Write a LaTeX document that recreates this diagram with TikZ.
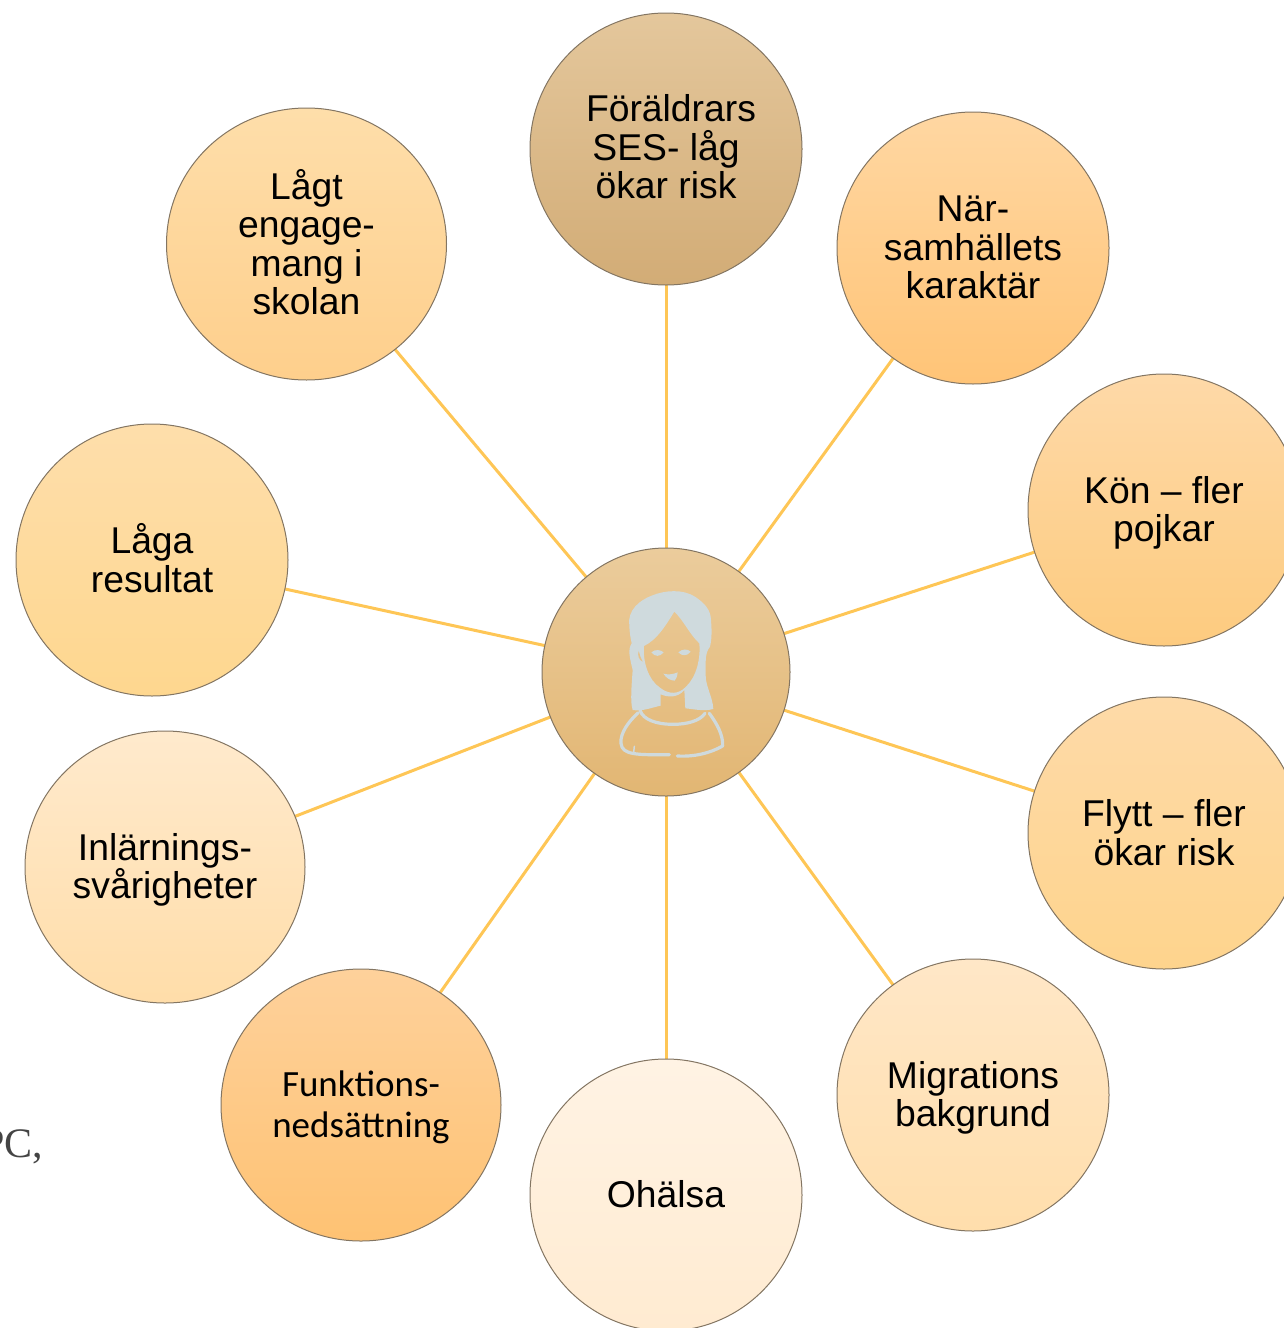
\documentclass[tikz,border=0pt]{standalone}
\usetikzlibrary{shapes.geometric}
\usepackage{fontspec}
\setmainfont{Liberation Sans}
\newfontfamily\calib{Carlito}
\newfontfamily\tms{Liberation Serif}
\newcommand\st{\rule[-4pt]{0pt}{34pt}}
\newcommand\dntwo{\rule{0pt}{33pt}}
\newcommand\uptwo{\rule[-8pt]{0pt}{8pt}}
\newcommand\upone{\rule[-6pt]{0pt}{6pt}}
\definecolor{bordergray}{HTML}{837562}
\definecolor{spokeorange}{HTML}{FEC656}
\definecolor{figgray}{HTML}{CFDADD}
\definecolor{residue}{HTML}{444444}
\definecolor{earfill}{HTML}{E7C38C}
\definecolor{hubT}{HTML}{EBCC9C}\definecolor{hubB}{HTML}{E2B673}
\definecolor{sesT}{HTML}{E4C79C}\definecolor{sesB}{HTML}{D2AC76}
\definecolor{narT}{HTML}{FFD7A2}\definecolor{narB}{HTML}{FFC477}
\definecolor{konT}{HTML}{FED9A8}\definecolor{konB}{HTML}{FDCB7F}
\definecolor{flyT}{HTML}{FEDAA8}\definecolor{flyB}{HTML}{FED48D}
\definecolor{migT}{HTML}{FFE7C7}\definecolor{migB}{HTML}{FFDEAC}
\definecolor{ohaT}{HTML}{FFF3E4}\definecolor{ohaB}{HTML}{FFEBD1}
\definecolor{funT}{HTML}{FED19B}\definecolor{funB}{HTML}{FEC273}
\definecolor{inlT}{HTML}{FFEACD}\definecolor{inlB}{HTML}{FFDDA9}
\definecolor{lagaT}{HTML}{FEDEAB}\definecolor{lagaB}{HTML}{FED78F}
\definecolor{lagtT}{HTML}{FEDEAA}\definecolor{lagtB}{HTML}{FECF8C}
\pgfdeclarelayer{bg}\pgfsetlayers{bg,main}
\tikzset{
  bubble/.style n args={3}{circle,draw=bordergray,line width=1pt,inner sep=0pt,minimum size=#1,align=center,
    top color=#2T,bottom color=#2B,font=\fontsize{37.3}{38.5}\selectfont,text=black,#3},
  wide/.style={shape=ellipse,minimum width=280pt,minimum height=272pt},
  spoke/.style={draw=spokeorange,line width=3pt},
  figfill/.style={fill=figgray,draw=none},
  figline/.style={draw=figgray,line width=3.2pt,line cap=round,line join=round,fill=none},
}
\begin{document}
\begin{tikzpicture}[x=1pt,y=-1pt]
\useasboundingbox (0,0) rectangle (1284,1328);
\clip (0,0) rectangle (1284,1328);
\node[bubble={248pt}{hub}{}] (hub) at (666,672) {};
\node[bubble={272pt}{ses}{}] (ses) at (666,149) {\hspace*{10pt}Föräldrars\st\\SES- låg\st\\ökar risk\st\uptwo};
\node[bubble={272pt}{nar}{}] (nar) at (973,248) {När-\st\\samhällets\st\\karaktär\st\upone};
\node[bubble={272pt}{kon}{}] (kon) at (1164,510) {Kön – fler\st\dntwo\\pojkar\st};
\node[bubble={272pt}{fly}{}] (flytt) at (1164,833) {Flytt – fler\st\\ökar risk\st};
\node[bubble={272pt}{mig}{}] (mig) at (973,1095) {Migrations\st\dntwo\\bakgrund\st};
\node[bubble={272pt}{oha}{}] (oh) at (666,1195) {Ohälsa\st\upone};
\node[bubble={272pt}{fun}{wide,font=\calib\fontsize{37}{41}\selectfont}] (fn) at (361,1105) {Funktions-\st\\nedsättning\st};
\node[bubble={272pt}{inl}{wide}] (inl) at (165,867) {Inlärnings-\st\dntwo\\svårigheter\st};
\node[bubble={272pt}{laga}{}] (laga) at (152,560) {Låga\st\\resultat\st};
\node[bubble={272pt}{lagt}{wide}] (lagt) at (306.5,244) {Lågt\st\\engage-\st\\mang i\st\\skolan\st};
\node[font=\tms\fontsize{42}{42}\selectfont,text=residue,anchor=base east,inner sep=0pt] (pc) at (43.5,1157) {PC,};
\begin{pgfonlayer}{bg}
\foreach \t in {ses,nar,kon,flytt,mig,oh,fn,inl,laga,lagt}
  \draw[spoke] (hub.center) -- (\t.center);
\end{pgfonlayer}
\begin{scope}[shift={(540,545)},x=0.3333pt,y=-0.3333pt]
\path[figfill,even odd rule]
  (268,240) .. controls (262,195) and (300,165) .. (335,152)
  .. controls (375,135) and (430,132) .. (465,155)
  .. controls (495,175) and (512,195) .. (513,225)
  .. controls (516,260) and (515,285) .. (510,305)
  .. controls (495,325) and (497,345) .. (497,390)
  .. controls (497,425) and (518,455) .. (520,492)
  .. controls (490,500) and (460,492) .. (436,490)
  -- (433,435)
  .. controls (415,458) and (385,458) .. (362,448)
  -- (362,482)
  .. controls (335,488) and (305,500) .. (278,495)
  .. controls (270,470) and (275,420) .. (278,375)
  .. controls (270,340) and (262,315) .. (275,295)
  .. controls (272,280) and (268,260) .. (268,240) -- cycle
  (403,200) .. controls (375,245) and (350,285) .. (312,303)
  .. controls (308,350) and (325,405) .. (360,428)
  .. controls (385,448) and (415,450) .. (438,425)
  .. controls (470,395) and (482,340) .. (478,295)
  .. controls (450,270) and (430,225) .. (403,200) -- cycle;
\path[fill=earfill] (296,318) .. controls (300,330) and (302,340) .. (308,350) .. controls (296,345) and (292,330) .. (296,318) -- cycle;
\path[figfill] (334,322) .. controls (345,312) and (362,314) .. (371,322) .. controls (360,336) and (345,336) .. (334,322) -- cycle;
\path[figfill] (415,322) .. controls (428,311) and (442,311) .. (452,320) .. controls (442,334) and (426,334) .. (415,322) -- cycle;
\path[figfill] (370,386) .. controls (385,390) and (400,388) .. (413,382) .. controls (412,395) and (408,403) .. (404,407) .. controls (390,407) and (378,398) .. (370,386) -- cycle;
\draw[figline] (300,496) .. controls (310,525) and (350,538) .. (400,538) .. controls (440,538) and (480,528) .. (495,505);
\draw[figline] (295,503) .. controls (265,530) and (240,565) .. (243,595) .. controls (246,630) and (290,630) .. (388,629);
\draw[figline] (412,633) .. controls (460,636) and (510,625) .. (548,603) .. controls (550,570) and (530,535) .. (508,505);
\draw[figline,line width=1.5pt] (283,604) -- (281,622);
\end{scope}
\end{tikzpicture}
\end{document}
